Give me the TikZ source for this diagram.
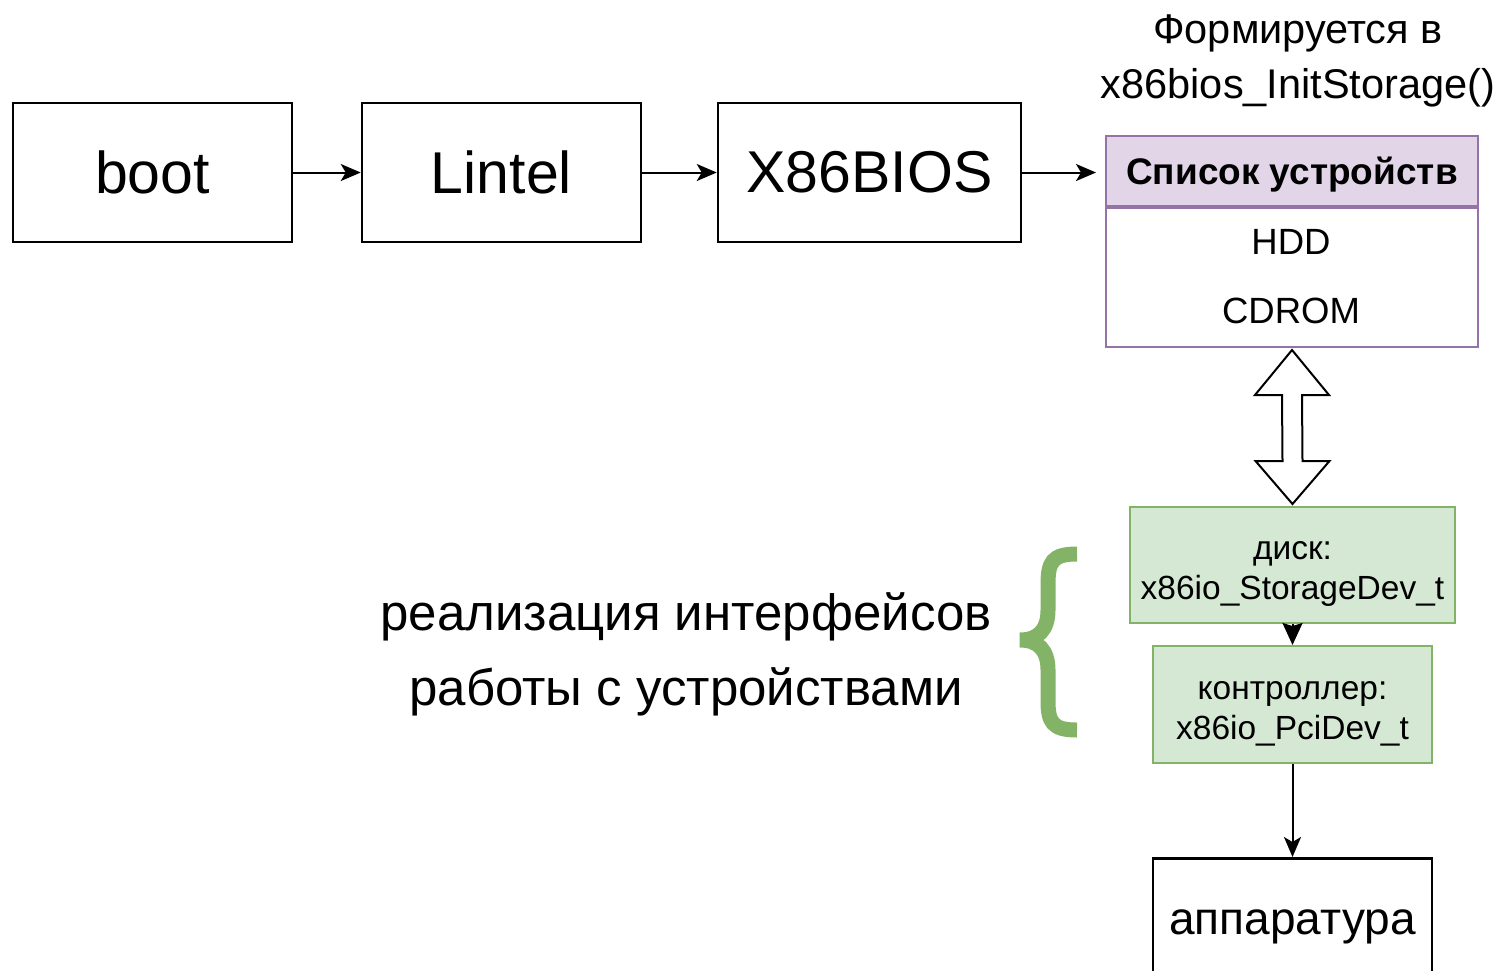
\documentclass[tikz,border=0pt]{standalone}
\usepackage{fontspec}
\setmainfont{Liberation Sans}
\usetikzlibrary{arrows.meta,calc}
\definecolor{purfill}{HTML}{E1D5E7}
\definecolor{purline}{HTML}{9673A6}
\definecolor{grfill}{HTML}{D5E8D4}
\definecolor{grline}{HTML}{82B366}
\tikzset{
  bigbox/.style={draw, line width=2.5pt, minimum height=139pt, inner sep=0pt, font=\fontsize{59}{70}\selectfont},
  plainlbl/.style={inner sep=0pt, align=center},
  listpart/.style={draw=purline, line width=2pt, minimum width=372pt, inner sep=0pt},
  greenbox/.style={draw=grline, fill=grfill, line width=2pt, inner sep=0pt},
  greentext/.style={inner sep=0pt, align=center, font=\fontsize{33.5}{40}\selectfont},
  conn/.style={line width=2pt, -{Stealth[length=20pt,width=17pt,inset=5pt]}},
}
\begin{document}
\begin{tikzpicture}[x=1pt,y=-1pt]
\useasboundingbox (0,0) rectangle (1504,970);
\clip (0,0) rectangle (1504,970);
% top row
\node[bigbox, minimum width=279pt] (boot) at (152.5,172.5) {boot};
\node[bigbox, minimum width=279pt] (lintel) at (501.5,172.5) {Lintel};
\node[bigbox, minimum width=303pt] (bios) at (869.5,172.5) {X86BIOS};
% title
\node[plainlbl, font=\fontsize{41.5}{55}\selectfont] (title) at (1298,61) {Формируется в\\x86bios\_InitStorage()};
% list
\node[listpart, fill=purfill, minimum height=70pt] (lh) at (1292,171) {};
\node[plainlbl, font=\bfseries\fontsize{37}{40}\selectfont] (lht) at ($(lh)+(0,4)$) {Список устройств};
\node[listpart, fill=white, minimum height=139pt, anchor=north] (lb) at (lh.south) {};
\node[plainlbl, font=\fontsize{36.5}{40}\selectfont] (hdd) at (1291,242) {HDD};
\node[plainlbl, font=\fontsize{36.5}{40}\selectfont] (cdrom) at (1291,311) {CDROM};
% connectors top
\draw[conn] (boot) -- (lintel);
\draw[conn] (lintel) -- (bios);
\draw[conn, shorten >=9pt] (bios) -- (bios -| lh.west);
% green boxes
\node[greenbox, minimum width=325pt, minimum height=116pt] (g1) at (1292.5,565) {};
\node[greentext] (g1t) at ($(g1)+(0,9)$) {диск:\\x86io\_StorageDev\_t};
\node[greenbox, minimum width=279pt, minimum height=117pt] (g2) at (1292.5,704.5) {};
\node[greentext] (g2t) at ($(g2)+(0,9)$) {контроллер:\\x86io\_PciDev\_t};
\node[bigbox, minimum width=279pt, minimum height=138pt, anchor=north, font=\fontsize{46}{50}\selectfont] (app) at (1292.5,857) {аппаратура};
\draw[line width=2pt, -{Stealth[length=22pt,width=20pt,inset=3pt]}] (g1) -- (g2);
\draw[conn] (g2) -- (app);
% double arrow between list and disk
\coordinate (dtop) at ($(lb.south)+(0,2)$);
\coordinate (dbot) at ($(g1.north)+(0,-2)$);
\draw[line width=2pt, line join=miter, fill=white]
  (dtop) -- ++(37,45) -- ++(-27,0) -- ($(dbot)+(10,-43)$) -- ++(27,0) -- (dbot)
  -- ++(-37,-43) -- ++(27,0) -- ($(dtop)+(-10,45)$) -- ++(-27,0) -- cycle;
% brace
\draw[grline, line width=15pt, line cap=butt]
  (1077,554) .. controls (1052,554) and (1048,562) .. (1048,585) -- (1048,610)
  .. controls (1048,630) and (1038,640) .. (1020,640)
  .. controls (1038,640) and (1048,650) .. (1048,670) -- (1048,700)
  .. controls (1048,722) and (1052,730) .. (1077,730);
\node[plainlbl, font=\fontsize{51}{75}\selectfont] (impl) at (686,654) {реализация интерфейсов\\работы с устройствами};
\end{tikzpicture}
\end{document}
